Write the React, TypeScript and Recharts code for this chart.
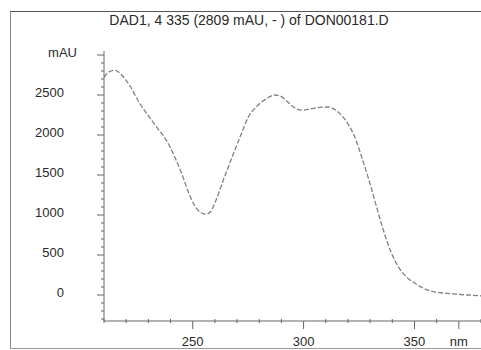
import { Line, LineChart, XAxis, YAxis } from 'recharts';

const wavelengths = [
  210, 212, 215, 218, 222, 226, 230, 234, 238, 242, 245, 248, 251, 254, 256, 258, 261, 264, 268, 272,
  275, 279, 283, 287, 290, 293, 296, 299, 303, 307, 311, 314, 317, 320, 323, 326, 329, 332, 335, 338,
  341, 344, 347, 350, 354, 358, 362, 366, 370, 374, 380,
];
const absorbance = [
  2720, 2785, 2809, 2750, 2600, 2400, 2240, 2090, 1940, 1720, 1520, 1290, 1110, 1025, 1010, 1040, 1220, 1450, 1740, 2020,
  2220, 2360, 2450, 2500, 2480, 2410, 2340, 2310, 2325, 2345, 2350, 2320, 2250, 2140, 1980, 1740, 1480, 1190, 900, 640,
  440, 300, 210, 150, 85, 45, 28, 18, 8, 0, -10,
];

const xTicks = [210, 220, 230, 240, 250, 260, 270, 280, 290, 300, 310, 320, 330, 340, 350, 360, 370, 380];
const xLabels: Record<number, string> = { 250: '250', 300: '300', 350: '350', 370: 'nm' };

const yTicks = [
  -300, -200, -100, 0, 100, 200, 300, 400, 500, 600, 700, 800, 900, 1000, 1100, 1200, 1300, 1400, 1500, 1600, 1700,
  1800, 1900, 2000, 2100, 2200, 2300, 2400, 2500, 2600, 2700, 2800, 2900, 3000,
];
const yLabels: Record<number, string> = {
  0: '0', 500: '500', 1000: '1000', 1500: '1500', 2000: '2000', 2500: '2500', 3000: 'mAU',
};

const title = 'DAD1, 4 335 (2809 mAU, - ) of DON00181.D';

const data = wavelengths.map((nm, i) => ({ nm, mau: absorbance[i] }));

const FONT = "Arial, 'Liberation Sans', sans-serif";
const INK = '#2a2a2a';
const AXIS = '#666';
const AXIS_X = 104;

function XTick(props: any) {
  const { x, y, payload } = props;
  const label = xLabels[payload.value];
  const major = label !== undefined;
  return (
    <g>
      <line x1={x} x2={x} y1={major ? y : y - 2} y2={major ? y + 8 : y + 2} stroke={AXIS} strokeWidth={1} />
      {label && (
        <text x={x} y={y + 25} textAnchor="middle" fontSize={13} fontFamily={FONT} fill={INK}>
          {label}
        </text>
      )}
    </g>
  );
}

function YTick(props: any) {
  const { y, payload } = props;
  const label = yLabels[payload.value];
  const major = label !== undefined;
  return (
    <g>
      <line x1={major ? AXIS_X - 7 : AXIS_X - 3} x2={AXIS_X} y1={y} y2={y} stroke={AXIS} strokeWidth={1} />
      {label && (
        <text
          x={payload.value === 3000 ? AXIS_X - 27 : AXIS_X - 40}
          y={y + 2}
          textAnchor="end"
          fontSize={13}
          fontFamily={FONT}
          fill={INK}
        >
          {label}
        </text>
      )}
    </g>
  );
}

export default function App() {
  return (
    <div style={{ position: 'absolute', left: 0, top: 0, width: 481, height: 350, background: '#fff', overflow: 'hidden' }}>
      {/* outer frame, right side runs off the picture */}
      <div
        style={{
          position: 'absolute',
          left: 10,
          top: 11,
          width: 480,
          height: 336,
          borderTop: '1px solid #555',
          borderLeft: '1px solid #888',
          borderBottom: '1px solid #999',
        }}
      />
      <div
        style={{
          position: 'absolute',
          left: 10,
          width: 478,
          top: 12,
          textAlign: 'center',
          fontFamily: FONT,
          fontSize: 14,
          color: INK,
          whiteSpace: 'nowrap',
        }}
      >
        {title}
      </div>
      <div style={{ position: 'absolute', left: 0, top: 0 }}>
        <LineChart width={481} height={350} data={data} margin={{ top: 51, right: 0, bottom: 0, left: 44 }}>
          <XAxis
            dataKey="nm"
            type="number"
            domain={[210, 380]}
            ticks={xTicks}
            interval={0}
            tickSize={0}
            tickMargin={0}
            tickLine={false}
            tick={<XTick />}
            height={29}
            stroke={AXIS}
            allowDataOverflow
          />
          <YAxis
            type="number"
            domain={[-325, 3050]}
            ticks={yTicks}
            interval={0}
            tickSize={0}
            tickMargin={0}
            tickLine={false}
            tick={<YTick />}
            width={60}
            stroke={AXIS}
            allowDataOverflow
          />
          <Line
            type="monotone"
            dataKey="mau"
            stroke="#808080"
            strokeWidth={1.3}
            strokeDasharray="5 2"
            dot={false}
            isAnimationActive={false}
          />
        </LineChart>
      </div>
    </div>
  );
}
